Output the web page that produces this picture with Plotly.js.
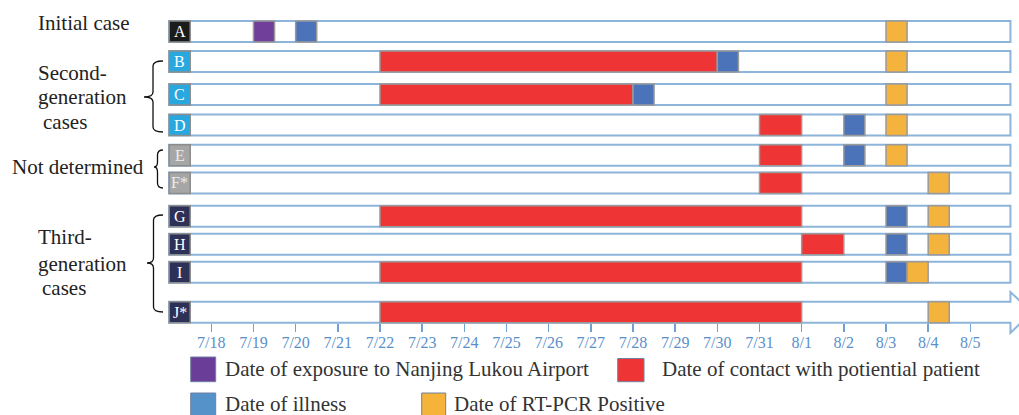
<!DOCTYPE html>
<html>
<head>
<meta charset="utf-8">
<script src="https://cdn.plot.ly/plotly-3.0.1.min.js"></script>
<style>html,body{margin:0;padding:0;background:#fff;}#chart{width:1019px;height:415px;}</style>
</head>
<body>
<div id="chart"></div>
<script>
// ---------------- data ----------------
const cases = ['A', 'B', 'C', 'D', 'E', 'F*', 'G', 'H', 'I', 'J*'];

const exposureCase  = ['A'];
const exposureStart = ['2021-07-19'];
const exposureEnd   = ['2021-07-19 12:00'];

const contactCase  = ['B', 'C', 'D', 'E', 'F*', 'G', 'H', 'I', 'J*'];
const contactStart = ['2021-07-22', '2021-07-22', '2021-07-31', '2021-07-31', '2021-07-31', '2021-07-22', '2021-08-01', '2021-07-22', '2021-07-22'];
const contactEnd   = ['2021-07-30', '2021-07-28', '2021-08-01', '2021-08-01', '2021-08-01', '2021-08-01', '2021-08-02', '2021-08-01', '2021-08-01'];

const illnessCase  = ['A', 'B', 'C', 'D', 'E', 'G', 'H', 'I'];
const illnessStart = ['2021-07-20', '2021-07-30', '2021-07-28', '2021-08-02', '2021-08-02', '2021-08-03', '2021-08-03', '2021-08-03'];
const illnessEnd   = ['2021-07-20 12:00', '2021-07-30 12:00', '2021-07-28 12:00', '2021-08-02 12:00', '2021-08-02 12:00', '2021-08-03 12:00', '2021-08-03 12:00', '2021-08-03 12:00'];

const positiveCase  = ['A', 'B', 'C', 'D', 'E', 'F*', 'G', 'H', 'I', 'J*'];
const positiveStart = ['2021-08-03', '2021-08-03', '2021-08-03', '2021-08-03', '2021-08-03', '2021-08-04', '2021-08-04', '2021-08-04', '2021-08-03 12:00', '2021-08-04'];
const positiveEnd   = ['2021-08-03 12:00', '2021-08-03 12:00', '2021-08-03 12:00', '2021-08-03 12:00', '2021-08-03 12:00', '2021-08-04 12:00', '2021-08-04 12:00', '2021-08-04 12:00', '2021-08-04', '2021-08-04 12:00'];

const tickLabels = ['7/18', '7/19', '7/20', '7/21', '7/22', '7/23', '7/24', '7/25', '7/26', '7/27', '7/28', '7/29', '7/30', '7/31', '8/1', '8/2', '8/3', '8/4', '8/5'];
const tickDates  = ['2021-07-18', '2021-07-19', '2021-07-20', '2021-07-21', '2021-07-22', '2021-07-23', '2021-07-24', '2021-07-25', '2021-07-26', '2021-07-27', '2021-07-28', '2021-07-29', '2021-07-30', '2021-07-31', '2021-08-01', '2021-08-02', '2021-08-03', '2021-08-04', '2021-08-05'];

const legendNames = ['Date of exposure to Nanjing Lukou Airport', 'Date of contact with potiential patient', 'Date of illness', 'Date of RT-PCR Positive'];

// ---------------- layout / style ----------------
const rowSlot = [0, 0.984, 2.066, 3.066, 4.059, 4.967, 6.056, 6.977, 7.892, 9.203];
const slotOf = c => rowSlot[cases.indexOf(c)];
const boxColor = ['#1b1b1b', '#29a8e0', '#29a8e0', '#29a8e0', '#a6a6a6', '#a6a6a6', '#2d3157', '#2d3157', '#2d3157', '#2d3157'];
const boxText  = ['#ffffff', '#ffffff', '#ffffff', '#ffffff', '#ececec', '#ececec', '#ffffff', '#ffffff', '#ffffff', '#ffffff'];
const frameStart = '2021-07-17';
const frameEnd = '2021-08-05 22:50';
const boxEnd = '2021-07-17 12:00';
const BW = 0.69;
const serif = 'Liberation Serif, Times New Roman, serif';

function t(s) {
  const [d, h] = s.split(' ');
  const [Y, M, D] = d.split('-').map(Number);
  let hh = 0, mm = 0;
  if (h) [hh, mm] = h.split(':').map(Number);
  return Date.UTC(Y, M - 1, D, hh, mm);
}
const dur = (a, b) => a.map((s, i) => t(b[i]) - t(s));

function barTrace(caseArr, startArr, endArr, color, lineColor, lineWidth) {
  return {
    type: 'bar', orientation: 'h',
    y: caseArr.map(slotOf), base: startArr, x: dur(startArr, endArr),
    width: BW,
    marker: { color: color, line: { color: lineColor, width: lineWidth } },
    hoverinfo: 'skip', showlegend: false
  };
}

const frameCases = cases.filter(c => c !== 'J*');
const traces = [
  barTrace(frameCases, frameCases.map(() => frameStart), frameCases.map(() => frameEnd), '#ffffff', '#8db4da', 2),
  barTrace(cases, cases.map(() => frameStart), cases.map(() => boxEnd), boxColor, '#8c8c8c', 1.5),
  barTrace(exposureCase, exposureStart, exposureEnd, '#6f3f9a', '#9a9a9a', 1.5),
  barTrace(contactCase, contactStart, contactEnd, '#ee3434', '#9a9a9a', 1.5),
  barTrace(illnessCase, illnessStart, illnessEnd, '#4a73ba', '#9a9a9a', 1.5),
  barTrace(positiveCase, positiveStart, positiveEnd, '#f4b33d', '#9a9a9a', 1.5)
];

// J* frame with arrow head (drawn below traces)
const jy = slotOf('J*');
const u = s => s.replace(' ', '_');
const jPath = `M${u(frameStart)},${jy - BW / 2} L${u(frameEnd)},${jy - BW / 2} L${u(frameEnd)},${jy - 0.66} ` +
  `L2021-08-06_11:00,${jy} L${u(frameEnd)},${jy + 0.68} L${u(frameEnd)},${jy + BW / 2} L${u(frameStart)},${jy + BW / 2} Z`;

const W = 1019, H = 415;
const px = (x, y) => `${(x / W).toFixed(5)},${(1 - y / H).toFixed(5)}`;
function brace(xv, yTop, yMid, yBot, xTip, xEnd) {
  return `M${px(xEnd, yTop)} Q${px(xv, yTop)} ${px(xv, yTop + 5)} L${px(xv, yMid - 5)} Q${px(xv, yMid)} ${px(xTip, yMid)} ` +
    `Q${px(xv, yMid)} ${px(xv, yMid + 5)} L${px(xv, yBot - 5)} Q${px(xv, yBot)} ${px(xEnd, yBot)}`;
}

const shapes = [
  { type: 'path', xref: 'x', yref: 'y', path: jPath, fillcolor: '#ffffff', line: { color: '#8db4da', width: 2 }, layer: 'below' },
  { type: 'path', xref: 'paper', yref: 'paper', path: brace(153, 61, 97, 132, 144, 163), line: { color: '#111', width: 1.3 } },
  { type: 'path', xref: 'paper', yref: 'paper', path: brace(157.5, 150, 167, 188, 154, 163), line: { color: '#111', width: 1.3 } },
  { type: 'path', xref: 'paper', yref: 'paper', path: brace(153.5, 215, 263, 312, 147, 163), line: { color: '#111', width: 1.3 } }
];

// legend swatches
const legendSw = [
  [190.7, 357, 215.7, 381.7, '#6a3d99'],
  [617.7, 358.5, 644, 381.7, '#ee3434'],
  [190.7, 393, 215.7, 417, '#5592c9'],
  [421.7, 393, 445.7, 417, '#f5b33a']
];
const legendTx = [[224, 369], [661, 369], [224, 404], [453, 404]];
legendSw.forEach(s => {
  shapes.push({ type: 'rect', xref: 'paper', yref: 'paper', x0: s[0] / W, x1: s[2] / W, y0: 1 - s[3] / H, y1: 1 - s[1] / H,
    fillcolor: s[4], line: { color: '#6f80a3', width: 1 } });
});

const annotations = [];
cases.forEach((c, i) => {
  annotations.push({ xref: 'x', yref: 'y', x: '2021-07-17 06:00', y: rowSlot[i], text: c, showarrow: false,
    font: { family: serif, size: 16, color: boxText[i] }, xanchor: 'center', yanchor: 'middle' });
});
const groupLabels = [
  ['Initial case', 37, 23],
  ['Second-', 37, 73], ['generation', 37, 97], ['cases', 42, 122],
  ['Not determined', 11, 167],
  ['Third-', 37, 237], ['generation', 37, 264], ['cases', 41, 288]
];
groupLabels.forEach(g => {
  annotations.push({ xref: 'paper', yref: 'paper', x: g[1] / W, y: 1 - g[2] / H, text: g[0], showarrow: false,
    xanchor: 'left', yanchor: 'middle', borderpad: 0, font: { family: serif, size: 21, color: '#222' } });
});
legendNames.forEach((n, i) => {
  annotations.push({ xref: 'paper', yref: 'paper', x: legendTx[i][0] / W, y: 1 - legendTx[i][1] / H, text: n, showarrow: false,
    xanchor: 'left', yanchor: 'middle', borderpad: 0, font: { family: serif, size: 21, color: '#333' } });
});

const layout = {
  width: W, height: H,
  margin: { l: 0, r: 0, t: 0, b: 0 },
  paper_bgcolor: '#ffffff', plot_bgcolor: '#ffffff',
  barmode: 'overlay',
  showlegend: false,
  hovermode: false,
  font: { family: serif },
  xaxis: {
    type: 'date', range: ['2021-07-12 23:44', '2021-08-06 03:42'],
    tickvals: tickDates, ticktext: tickLabels,
    ticks: 'outside', ticklen: 8, tickwidth: 1.5, tickcolor: '#6f9fd3',
    tickfont: { family: serif, size: 16, color: '#5b8fc9' },
    ticklabelstandoff: -3,
    showgrid: false, zeroline: false, showline: false,
    anchor: 'free', position: 1 - 322.7 / H, fixedrange: true
  },
  yaxis: {
    range: [(H - 31.5) / 30.5, -31.5 / 30.5],
    showgrid: false, zeroline: false, showticklabels: false, ticks: '', fixedrange: true
  },
  shapes: shapes,
  annotations: annotations
};

Plotly.newPlot('chart', traces, layout, { displayModeBar: false, staticPlot: true });
</script>
</body>
</html>
